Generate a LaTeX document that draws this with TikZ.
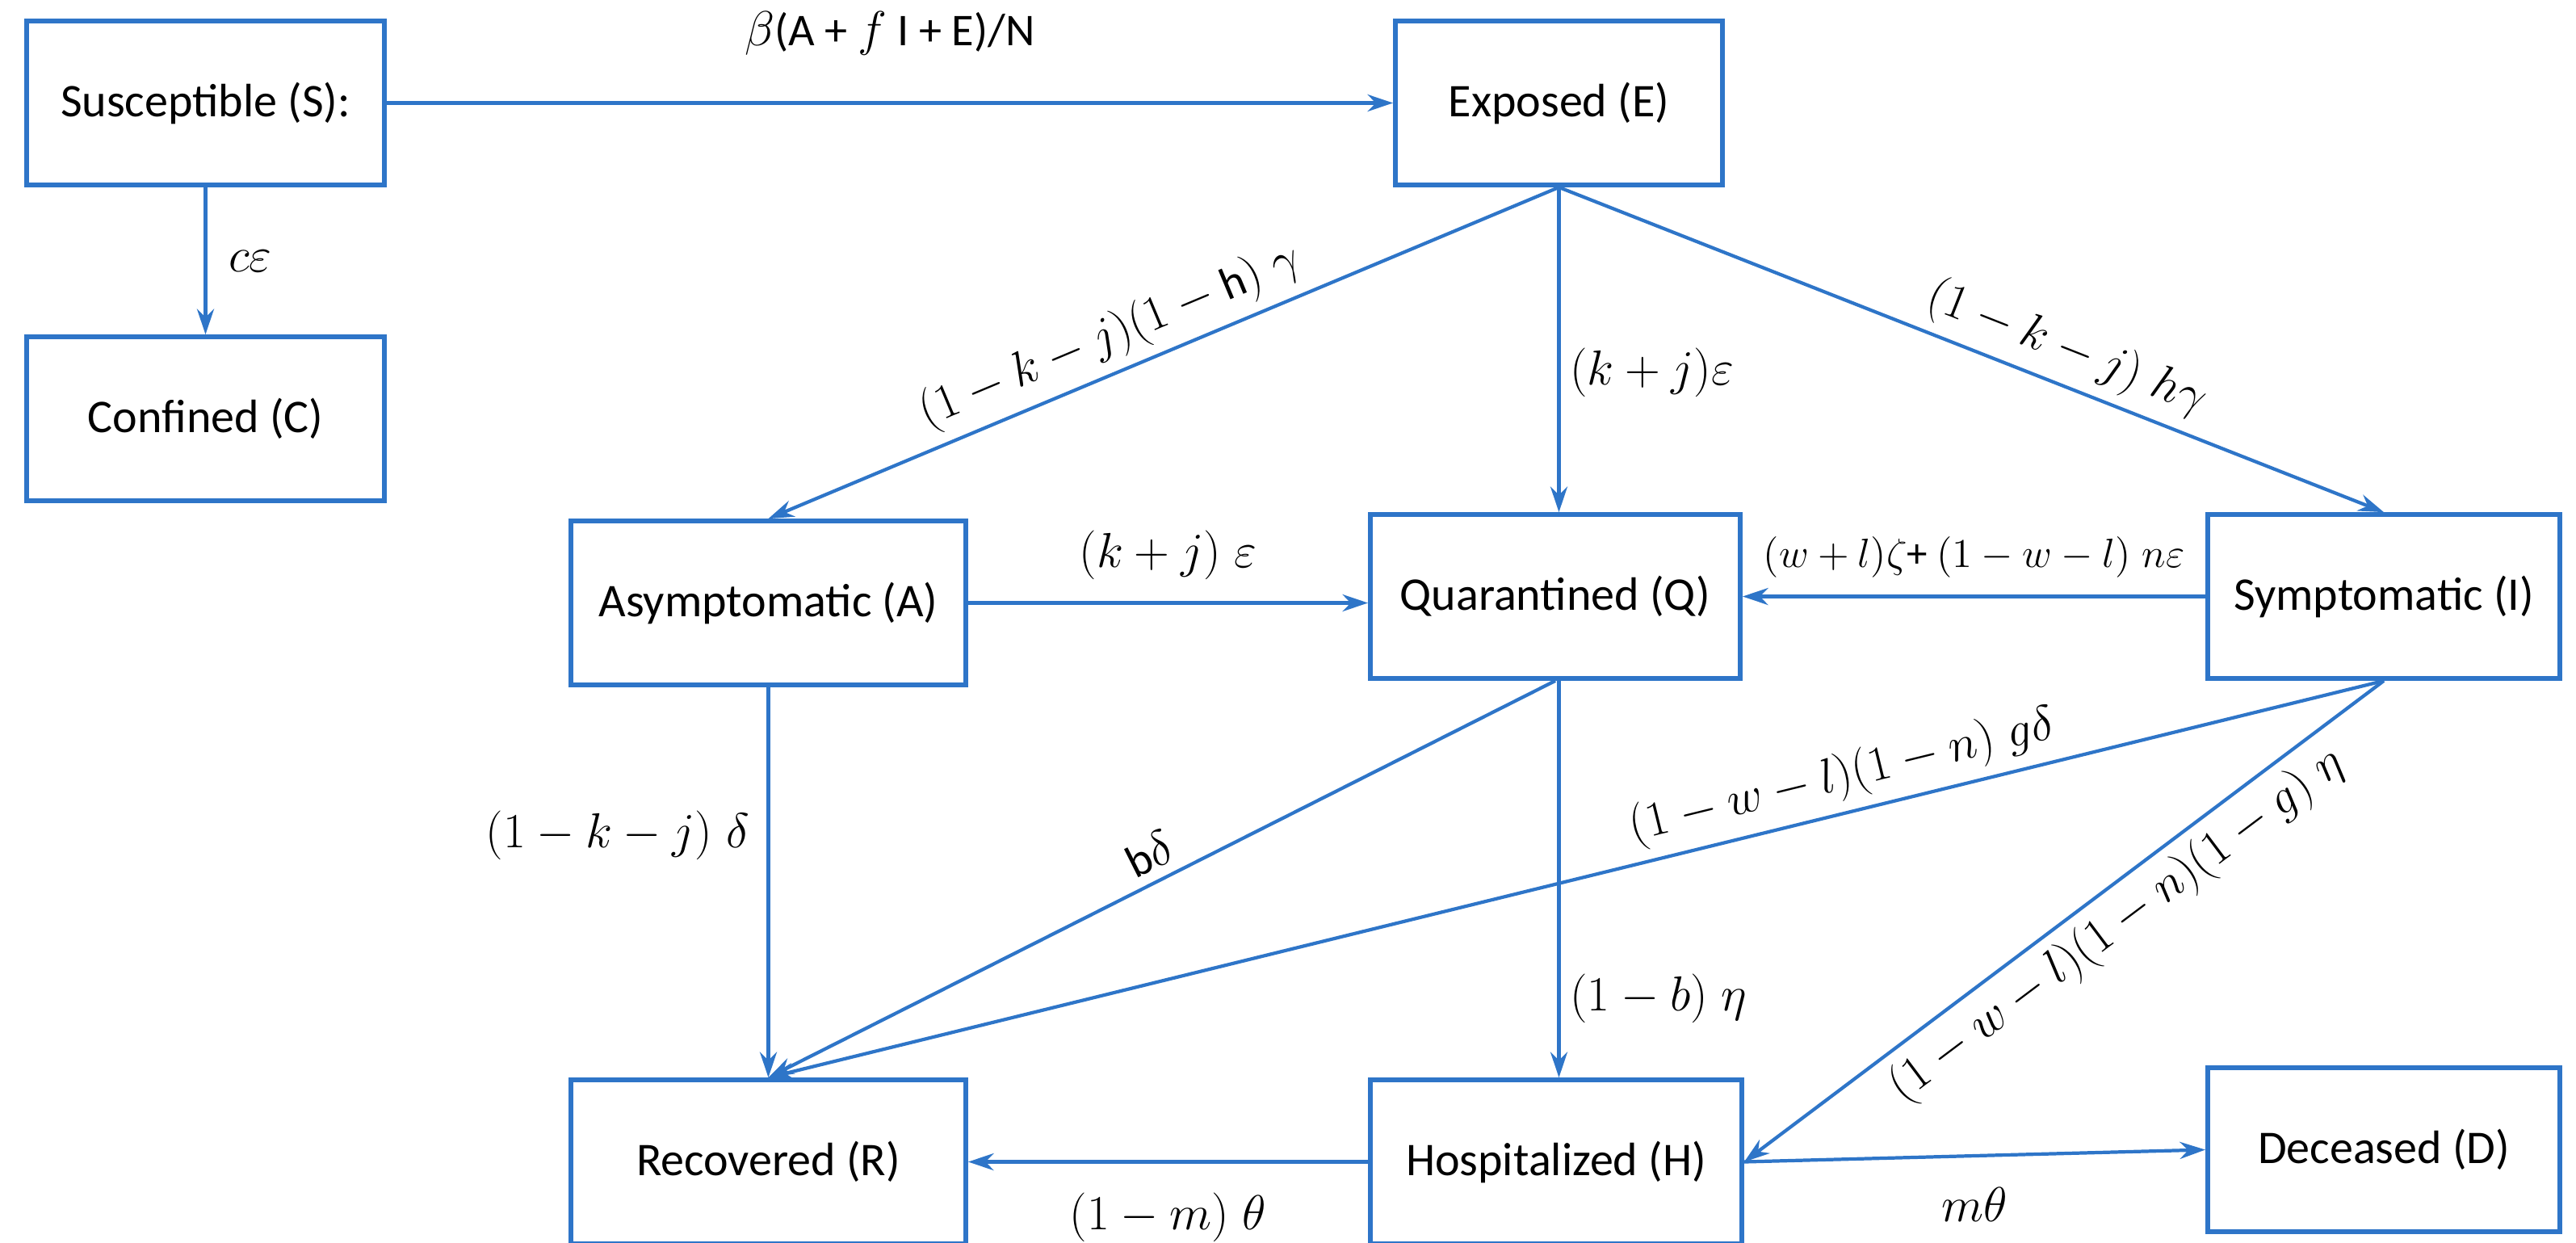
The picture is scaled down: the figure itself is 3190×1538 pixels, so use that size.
\documentclass[tikz,border=0pt]{standalone}
\usepackage{fontspec}
\setmainfont{Carlito}
\usetikzlibrary{arrows.meta}
\definecolor{bl}{RGB}{46,117,200}
\begin{document}
\begin{tikzpicture}[x=0.01cm,y=-0.01cm,
  box/.style={draw=bl,line width=1.6pt,minimum width=#1,minimum height=2.03cm,inner sep=0pt,font=\fontsize{16.5}{19}\selectfont},
  box/.default=4.4cm,
  ar/.style={draw=bl,line width=1.2pt,-{Stealth[length=9pt,width=6pt]}},
  lb/.style={font=\fontsize{16}{19}\selectfont,text=black}]
\useasboundingbox (0,0) rectangle (3190,1538);
\node[box=4.43cm] (S) at (254.5,127.5) {Susceptible (S):};
\node[box=4.05cm] (E) at (1930.5,127.5) {Exposed (E)};
\node[box=4.43cm] (C) at (254.5,518.5) {Confined (C)};
\node[box=4.89cm] (A) at (951.5,746.5) {Asymptomatic (A)};
\node[box=4.58cm] (Q) at (1926,738.5) {Quarantined (Q)};
\node[box=4.36cm] (I) at (2952,738.5) {Symptomatic (I)};
\node[box=4.89cm] (R) at (951.5,1438.5) {Recovered (R)};
\node[box=4.60cm] (H) at (1927,1438.5) {Hospitalized (H)};
\node[box=4.36cm] (D) at (2952,1423.5) {Deceased (D)};
\draw[ar] (S.east) -- node[lb,above=0.45cm] {$\beta$(A + $f$ I + E)/N} (E.west);
\draw[ar] (S) -- node[lb,right=0.15cm] {$c\varepsilon$} (C);
\draw[ar] (E.south) -- node[lb,sloped,above,pos=0.55] {$(1-k-j)(1-\mathrm{h})\;\gamma$} (A.north);
\draw[ar] (E.south) -- node[lb,right,pos=0.57] {$(k+j)\varepsilon$} (Q.north-|E.south);
\draw[ar] (E.south) -- node[lb,sloped,above,pos=0.6] {$(1-k-j)\;h\gamma$} (I.north);
\draw[ar] (A.east) -- node[lb,above=0.15cm] {$(k+j)\;\varepsilon$} (Q.west|-A.east);
\draw[ar] (I.west) -- node[lb,font=\fontsize{14.5}{17}\selectfont,above=0.1cm] {$(w+l)\zeta$+ $(1-w-l)\;n\varepsilon$} (Q.east);
\draw[ar] (A.south) -- node[lb,left=0.1cm,pos=0.38] {$(1-k-j)\;\delta$} (R.north);
\draw[ar] (Q.south) -- node[lb,sloped,above,pos=0.5] {b$\delta$} (R.north);
\draw[ar] (Q.south-|E.south) -- node[lb,right,pos=0.8] {$(1-b)\;\eta$} (H.north-|E.south);
\draw[ar] (I.south) -- node[lb,sloped,above,pos=0.33] {$(1-w-l)(1-n)\;g\delta$} (R.north);
\draw[ar] (I.south) -- node[lb,sloped,below,pos=0.45] {$(1-w-l)(1-n)(1-g)\;\eta$} (H.east);
\draw[ar] (H.west) -- node[lb,below=0.25cm] {$(1-m)\;\theta$} (R.east);
\draw[ar] (H.east) -- node[lb,below=0.25cm] {$m\theta$} (D.west);
\end{tikzpicture}
\end{document}
